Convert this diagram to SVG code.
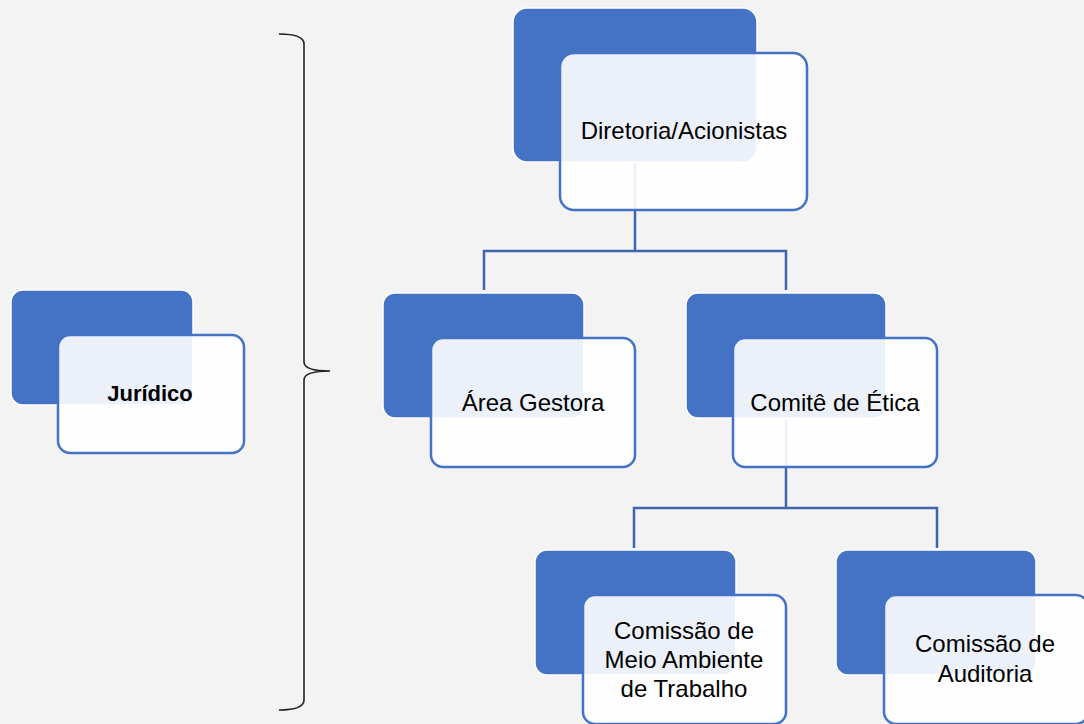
<svg xmlns="http://www.w3.org/2000/svg" width="1084" height="724" viewBox="0 0 1084 724">
<style>
.back{fill:#4472C4;stroke:#ffffff;stroke-width:1.5}
.front{fill:#ffffff;fill-opacity:0.9;stroke:#4472C4;stroke-width:2.5}
.lbl{font-family:"Liberation Sans",Arial,sans-serif;font-size:24px;fill:#000;text-anchor:middle}
.conn{fill:none;stroke:#3F66AC;stroke-width:2.5}
</style>
<rect width="1084" height="724" fill="#F3F3F3"/>
<g id="connectors">
<path class="conn" d="M635,162 V251 M484,290 V251 H786 V290"/>
<path class="conn" d="M786,420 V508 M634,548 V508 H937 V548"/>
</g>
<g id="brace">
<path d="M279,34 Q304,34 304,44 V362 Q304,371 330,371 Q304,371 304,380 V700 Q304,710 279,710" fill="none" stroke="#222" stroke-width="1.6"/>
</g>
<g id="diretoria">
<rect class="back" x="513" y="8" width="244" height="154" rx="14"/>
<rect class="front" x="560" y="53" width="247" height="157" rx="14"/>
<text class="lbl" x="684" y="139">Diretoria/Acionistas</text>
</g>
<g id="juridico">
<rect class="back" x="11" y="290" width="182" height="115" rx="12"/>
<rect class="front" x="58" y="335" width="186" height="118" rx="12"/>
<text class="lbl" x="150" y="401" style="font-weight:bold;font-size:22px">Jurídico</text>
</g>
<g id="area-gestora">
<rect class="back" x="383" y="293" width="201" height="125" rx="12"/>
<rect class="front" x="431" y="338" width="204" height="129" rx="12"/>
<text class="lbl" x="533" y="411">Área Gestora</text>
</g>
<g id="comite-etica">
<rect class="back" x="686" y="293" width="200" height="125" rx="12"/>
<rect class="front" x="733" y="338" width="204" height="129" rx="12"/>
<text class="lbl" x="835" y="411">Comitê de Ética</text>
</g>
<g id="comissao-meio-ambiente">
<rect class="back" x="535" y="550" width="201" height="125" rx="12"/>
<rect class="front" x="583" y="595" width="203" height="129" rx="12"/>
<text class="lbl" x="684" y="639">Comissão de</text>
<text class="lbl" x="684" y="668">Meio Ambiente</text>
<text class="lbl" x="684" y="697">de Trabalho</text>
</g>
<g id="comissao-auditoria">
<rect class="back" x="836" y="550" width="200" height="125" rx="12"/>
<rect class="front" x="884" y="595" width="204" height="129" rx="12"/>
<text class="lbl" x="985" y="652">Comissão de</text>
<text class="lbl" x="985" y="682">Auditoria</text>
</g>
</svg>
